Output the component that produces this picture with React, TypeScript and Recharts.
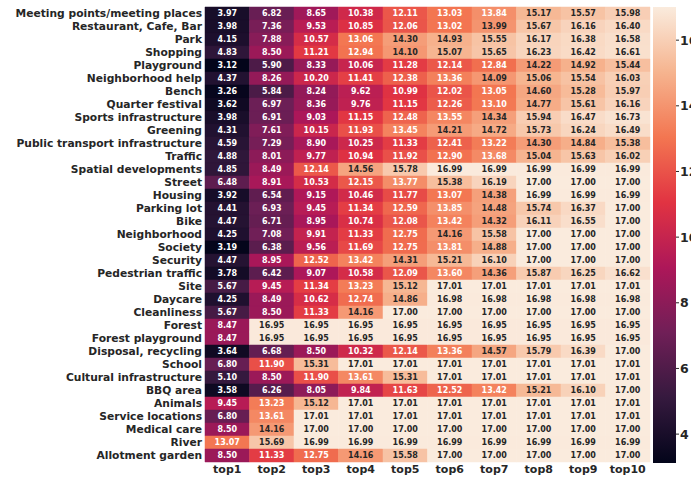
import React from 'react';
import { BarChart, Bar, XAxis, YAxis, Cell, LabelList } from 'recharts';

const categories = [
  'Meeting points/meeting places', 'Restaurant, Cafe, Bar', 'Park', 'Shopping', 'Playground',
  'Neighborhood help', 'Bench', 'Quarter festival', 'Sports infrastructure', 'Greening',
  'Public transport infrastructure', 'Traffic', 'Spatial developments', 'Street', 'Housing ',
  'Parking lot', 'Bike', 'Neighborhood', 'Society', 'Security', 'Pedestrian traffic', 'Site',
  'Daycare', 'Cleanliness', 'Forest', 'Forest playground', 'Disposal, recycling', 'School',
  'Cultural infrastructure', 'BBQ area', 'Animals', 'Service locations', 'Medical care',
  'River', 'Allotment garden',
];

const columns = ['top1', 'top2', 'top3', 'top4', 'top5', 'top6', 'top7', 'top8', 'top9', 'top10'];

const values: number[][] = [
  [3.97, 6.82, 8.65, 10.38, 12.11, 13.03, 13.84, 15.17, 15.57, 15.98],
  [3.98, 7.36, 9.53, 10.85, 12.06, 13.02, 13.99, 15.67, 16.16, 16.40],
  [4.15, 7.88, 10.57, 13.06, 14.30, 14.93, 15.55, 16.17, 16.38, 16.58],
  [4.83, 8.50, 11.21, 12.94, 14.10, 15.07, 15.65, 16.23, 16.42, 16.61],
  [3.12, 5.90, 8.33, 10.06, 11.28, 12.14, 12.84, 14.22, 14.92, 15.44],
  [4.37, 8.26, 10.20, 11.41, 12.38, 13.36, 14.09, 15.06, 15.54, 16.03],
  [3.26, 5.84, 8.24, 9.62, 10.99, 12.02, 13.05, 14.60, 15.28, 15.97],
  [3.62, 6.97, 8.36, 9.76, 11.15, 12.26, 13.10, 14.77, 15.61, 16.16],
  [3.98, 6.91, 9.03, 11.15, 12.48, 13.55, 14.34, 15.94, 16.47, 16.73],
  [4.31, 7.61, 10.15, 11.93, 13.45, 14.21, 14.72, 15.73, 16.24, 16.49],
  [4.59, 7.29, 8.90, 10.25, 11.33, 12.41, 13.22, 14.30, 14.84, 15.38],
  [4.88, 8.01, 9.77, 10.94, 11.92, 12.90, 13.68, 15.04, 15.63, 16.02],
  [4.85, 8.49, 12.14, 14.56, 15.78, 16.99, 16.99, 16.99, 16.99, 16.99],
  [6.48, 8.91, 10.53, 12.15, 13.77, 15.38, 16.19, 17.00, 17.00, 17.00],
  [3.92, 6.54, 9.15, 10.46, 11.77, 13.07, 14.38, 16.99, 16.99, 16.99],
  [4.41, 6.93, 9.45, 11.34, 12.59, 13.85, 14.48, 15.74, 16.37, 17.00],
  [4.47, 6.71, 8.95, 10.74, 12.08, 13.42, 14.32, 16.11, 16.55, 17.00],
  [4.25, 7.08, 9.91, 11.33, 12.75, 14.16, 15.58, 17.00, 17.00, 17.00],
  [3.19, 6.38, 9.56, 11.69, 12.75, 13.81, 14.88, 17.00, 17.00, 17.00],
  [4.47, 8.95, 12.52, 13.42, 14.31, 15.21, 16.10, 17.00, 17.00, 17.00],
  [3.78, 6.42, 9.07, 10.58, 12.09, 13.60, 14.36, 15.87, 16.25, 16.62],
  [5.67, 9.45, 11.34, 13.23, 15.12, 17.01, 17.01, 17.01, 17.01, 17.01],
  [4.25, 8.49, 10.62, 12.74, 14.86, 16.98, 16.98, 16.98, 16.98, 16.98],
  [5.67, 8.50, 11.33, 14.16, 17.00, 17.00, 17.00, 17.00, 17.00, 17.00],
  [8.47, 16.95, 16.95, 16.95, 16.95, 16.95, 16.95, 16.95, 16.95, 16.95],
  [8.47, 16.95, 16.95, 16.95, 16.95, 16.95, 16.95, 16.95, 16.95, 16.95],
  [3.64, 6.68, 8.50, 10.32, 12.14, 13.36, 14.57, 15.79, 16.39, 17.00],
  [6.80, 11.90, 15.31, 17.01, 17.01, 17.01, 17.01, 17.01, 17.01, 17.01],
  [5.10, 8.50, 11.90, 13.61, 15.31, 17.01, 17.01, 17.01, 17.01, 17.01],
  [3.58, 6.26, 8.05, 9.84, 11.63, 12.52, 13.42, 15.21, 16.10, 17.00],
  [9.45, 13.23, 15.12, 17.01, 17.01, 17.01, 17.01, 17.01, 17.01, 17.01],
  [6.80, 13.61, 17.01, 17.01, 17.01, 17.01, 17.01, 17.01, 17.01, 17.01],
  [8.50, 14.16, 17.00, 17.00, 17.00, 17.00, 17.00, 17.00, 17.00, 17.00],
  [13.07, 15.69, 16.99, 16.99, 16.99, 16.99, 16.99, 16.99, 16.99, 16.99],
  [8.50, 11.33, 12.75, 14.16, 15.58, 17.00, 17.00, 17.00, 17.00, 17.00],
];

const colorbarTicks = [4, 6, 8, 10, 12, 14, 16];
const vmin = 3.12;
const vmax = 17.01;

// seaborn "rocket" approximated by a few stops
const rocketStops: [number, number[]][] = [
  [0, [3, 5, 26]],
  [1 / 7, [53, 25, 62]],
  [2 / 7, [112, 31, 87]],
  [3 / 7, [173, 23, 89]],
  [4 / 7, [225, 51, 66]],
  [5 / 7, [243, 118, 81]],
  [6 / 7, [246, 180, 143]],
  [1, [250, 235, 221]],
];

const rocketRgb = (t: number) => {
  const tt = Math.max(0, Math.min(1, t));
  for (let i = 1; i < rocketStops.length; i++) {
    const [t1, c1] = rocketStops[i];
    const [t0, c0] = rocketStops[i - 1];
    if (tt <= t1) {
      const f = (tt - t0) / (t1 - t0);
      return c0.map((v, k) => v + (c1[k] - v) * f);
    }
  }
  return rocketStops[rocketStops.length - 1][1];
};

const toCss = (c: number[]) => `rgb(${c.map((v) => Math.round(v)).join(',')})`;
const colorFor = (v: number) => toCss(rocketRgb((v - vmin) / (vmax - vmin)));

const textColor = (v: number) => {
  const lin = rocketRgb((v - vmin) / (vmax - vmin)).map((x) => {
    const s = x / 255;
    return s <= 0.03928 ? s / 12.92 : Math.pow((s + 0.055) / 1.055, 2.4);
  });
  const lum = 0.2126 * lin[0] + 0.7152 * lin[1] + 0.0722 * lin[2];
  return lum > 0.408 ? '#262626' : '#ffffff';
};

const data = categories.map((name) => {
  const row: Record<string, string | number> = { name };
  columns.forEach((_, c) => {
    row[`c${c}`] = 1;
  });
  return row;
});

const cellLabel = (col: number) => (props: any) => {
  const { x, y, width, height, index } = props;
  const v = values[index][col];
  return (
    <text
      x={Number(x) + Number(width) / 2}
      y={Number(y) + Number(height) / 2}
      textAnchor="middle"
      dominantBaseline="central"
      fontSize={8}
      fontWeight="bold"
      fill={textColor(v)}
    >
      {v.toFixed(2)}
    </text>
  );
};

const labelStyle = { fontSize: 10.7, fontWeight: 'bold', fill: '#262626' };

export default function App() {
  return (
    <div style={{ position: 'absolute', left: 0, top: 0, width: 691, height: 479, fontFamily: 'DejaVu Sans', background: '#fff' }}>
      <div style={{ position: 'absolute', left: 0, top: 0 }}>
        <BarChart
          width={653}
          height={479}
          data={data}
          layout="vertical"
          barCategoryGap={0}
          margin={{ top: 7, right: 3, bottom: 0, left: 0 }}
        >
          <XAxis
            type="number"
            domain={[0, 10]}
            ticks={columns.map((_, i) => i + 0.5)}
            tickFormatter={(v: number) => columns[Math.floor(v)]}
            interval={0}
            height={17}
            tickSize={0}
            tickMargin={3}
            axisLine={false}
            tickLine={false}
            tick={{ ...labelStyle, fontSize: 11 }}
          />
          <YAxis
            type="category"
            dataKey="name"
            width={205}
            interval={0}
            tickSize={0}
            tickMargin={3}
            axisLine={false}
            tickLine={false}
            tick={labelStyle}
          />
          {columns.map((col, c) => (
            <Bar key={col} dataKey={`c${c}`} stackId="heat" isAnimationActive={false}>
              {values.map((row, r) => (
                <Cell key={r} fill={colorFor(row[c])} stroke={colorFor(row[c])} strokeWidth={0.5} />
              ))}
              <LabelList content={cellLabel(c)} />
            </Bar>
          ))}
        </BarChart>
      </div>
      <div style={{ position: 'absolute', left: 653, top: 0 }}>
        <BarChart
          width={38}
          height={479}
          data={[{ name: 'scale', range: [vmin, vmax] }]}
          barCategoryGap={0}
          margin={{ top: 7, right: 0, bottom: 16, left: 0 }}
        >
          <defs>
            <linearGradient id="rocketGrad" x1="0" y1="1" x2="0" y2="0">
              {rocketStops.map(([t, c]) => (
                <stop key={t} offset={t} stopColor={toCss(c)} />
              ))}
            </linearGradient>
          </defs>
          <XAxis dataKey="name" hide />
          <YAxis
            orientation="right"
            type="number"
            domain={[vmin, vmax]}
            ticks={colorbarTicks}
            interval={0}
            width={15}
            tickSize={3}
            tickMargin={1}
            axisLine={false}
            tickLine={{ stroke: '#262626' }}
            tick={{ ...labelStyle, fontSize: 12.5 }}
            allowDataOverflow
          />
          <Bar dataKey="range" fill="url(#rocketGrad)" isAnimationActive={false} />
        </BarChart>
      </div>
    </div>
  );
}
